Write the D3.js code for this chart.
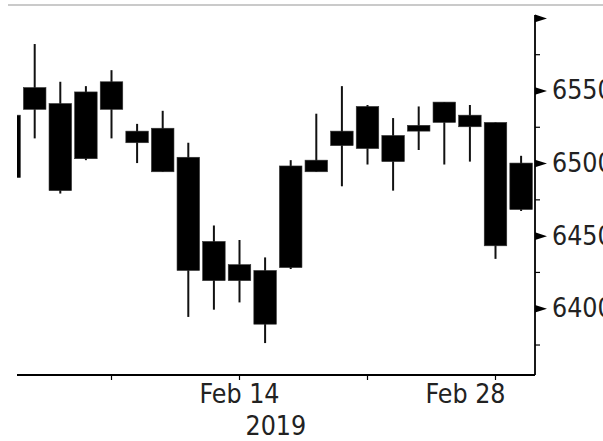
<!DOCTYPE html>
<html>
<head>
<meta charset="utf-8">
<script src="https://cdn.jsdelivr.net/npm/d3@7"></script>
<style>
  body { margin: 0; background: #fff; }
  text { font-family: "DejaVu Sans Condensed", "DejaVu Sans", sans-serif; fill: #222; }
</style>
</head>
<body>
<div id="vis-container"></div>
<script>
// trading days shown (the first one is cut by the left edge)
let dates  = ["2019-02-01","2019-02-04","2019-02-05","2019-02-06","2019-02-07","2019-02-08",
              "2019-02-11","2019-02-12","2019-02-13","2019-02-14","2019-02-15",
              "2019-02-18","2019-02-19","2019-02-20","2019-02-21","2019-02-22",
              "2019-02-25","2019-02-26","2019-02-27","2019-02-28","2019-03-01"];
let opens  = [6490, 6537, 6541, 6503, 6556, 6522, 6524, 6504, 6446, 6430, 6426,
              6428, 6494, 6512, 6510, 6519, 6522, 6528, 6533, 6528, 6468];
let highs  = [6540, 6582, 6556, 6553, 6564, 6527, 6536, 6514, 6457, 6447, 6435,
              6502, 6534, 6553, 6540, 6531, 6539, 6542, 6540, 6528, 6505];
let lows   = [6485, 6517, 6479, 6502, 6517, 6500, 6494, 6394, 6399, 6404, 6376,
              6427, 6494, 6484, 6499, 6481, 6509, 6499, 6501, 6434, 6467];
let closes = [6533, 6552, 6481, 6549, 6537, 6514, 6494, 6426, 6419, 6419, 6389,
              6498, 6502, 6522, 6539, 6501, 6526, 6542, 6525, 6443, 6500];

let yMajor = [6400, 6450, 6500, 6550, 6600];
let yLabeled = [6400, 6450, 6500, 6550];
let yMinor = [6375, 6425, 6475, 6525, 6575];
let xTicks = ["2019-02-07","2019-02-14","2019-02-21","2019-02-28"];
let xLabeled = ["2019-02-14","2019-02-28"];
let yearLabel = "2019";

let width = 603, height = 441;
let plot = {left: 17, right: 535, top: 15, bottom: 375};

let data = dates.map((d, i) => ({date: d, open: opens[i], high: highs[i], low: lows[i], close: closes[i]}));

let svg = d3.select("#vis-container")
            .append("svg")
            .attr("width", width)
            .attr("height", height);

// thin grey rule along the top
svg.append("line")
   .attr("x1", 8).attr("x2", width)
   .attr("y1", 5).attr("y2", 5)
   .attr("stroke", "#cacaca")
   .attr("stroke-width", 2);

let x = d3.scaleBand()
          .domain(dates)
          .range([-3.7, 533.9]);

let y = d3.scaleLinear()
          .domain([6354, 6602])
          .range([plot.bottom, plot.top]);

svg.append("clipPath")
   .attr("id", "clip")
   .append("rect")
   .attr("x", plot.left).attr("y", plot.top)
   .attr("width", plot.right - plot.left)
   .attr("height", plot.bottom - plot.top);

let g = svg.append("g").attr("clip-path", "url(#clip)");
let bw = x.bandwidth();

// wicks
g.selectAll(".wick")
 .data(data)
 .enter()
 .append("line")
   .attr("class", "wick")
   .attr("x1", d => x(d.date) + bw / 2)
   .attr("x2", d => x(d.date) + bw / 2)
   .attr("y1", d => y(d.high))
   .attr("y2", d => y(d.low))
   .attr("stroke", "#111")
   .attr("stroke-width", 2);

// bodies
g.selectAll(".body")
 .data(data)
 .enter()
 .append("rect")
   .attr("class", "body")
   .attr("x", d => x(d.date) + bw * 0.06)
   .attr("width", bw * 0.88)
   .attr("y", d => y(Math.max(d.open, d.close)))
   .attr("height", d => Math.max(1, Math.abs(y(d.open) - y(d.close))))
   .attr("fill", "#000")
   .attr("stroke", "#333")
   .attr("stroke-width", 0.6);

// x axis
let xAxis = svg.append("g")
   .attr("transform", `translate(0,${plot.bottom})`)
   .call(d3.axisBottom(x).tickValues(xTicks).tickSize(5).tickFormat(""));
xAxis.select(".domain").remove();
xAxis.selectAll(".tick line").attr("stroke", "#000").attr("stroke-width", 1.2)
     .attr("transform", `translate(${bw / 2 - x.bandwidth() / 2},0)`);

svg.append("line")
   .attr("x1", plot.left).attr("x2", plot.right)
   .attr("y1", plot.bottom).attr("y2", plot.bottom)
   .attr("stroke", "#000").attr("stroke-width", 1.8);

let fmt = d3.timeFormat("%b %d");
let parse = d3.timeParse("%Y-%m-%d");

svg.selectAll(".xlabel")
   .data(xLabeled)
   .enter()
   .append("text")
     .attr("class", "xlabel")
     .attr("x", (d, i) => i === xLabeled.length - 1 ? x(d) + bw / 2 + 10 : x(d) + bw / 2)
     .attr("y", 403)
     .attr("text-anchor", (d, i) => i === xLabeled.length - 1 ? "end" : "middle")
     .style("font-size", "26.5px")
     .text(d => fmt(parse(d)));

svg.append("text")
   .attr("x", x(xLabeled[0]) + bw / 2 + 6)
   .attr("y", 435)
   .attr("text-anchor", "start")
   .style("font-size", "26.5px")
   .text(yearLabel);

// y axis on the right
let yAxis = svg.append("g")
   .attr("transform", `translate(${plot.right},0)`)
   .call(d3.axisRight(y).tickValues(yMajor).tickSize(0).tickSizeOuter(0).tickPadding(17)
           .tickFormat(d => yLabeled.includes(d) ? d : ""));
yAxis.select(".domain")
     .attr("d", `M0,${plot.top}V${plot.bottom}`)
     .attr("stroke", "#000").attr("stroke-width", 1.8);
yAxis.selectAll(".tick text")
     .style("font-size", "26.5px")
     .attr("fill", "#222");
yAxis.selectAll(".tick")
     .append("path")
     .attr("d", "M0,-3.8L12,0L0,3.8Z")
     .attr("fill", "#000");

let yMin = svg.append("g")
   .attr("transform", `translate(${plot.right},0)`)
   .call(d3.axisRight(y).tickValues(yMinor).tickSize(5).tickFormat(""));
yMin.select(".domain").remove();
yMin.selectAll(".tick line").attr("stroke", "#000").attr("stroke-width", 1.2);
</script>
</body>
</html>
